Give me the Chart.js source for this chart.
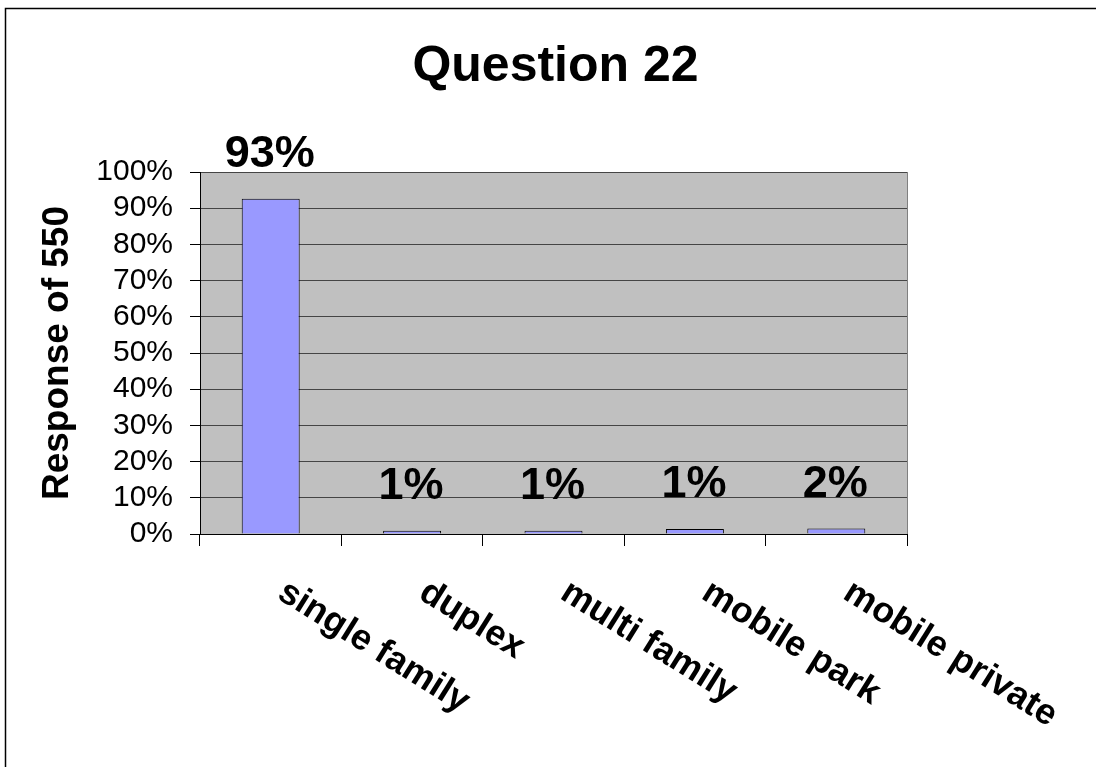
<!DOCTYPE html>
<html>
<head>
<meta charset="utf-8">
<title>Question 22</title>
<script src="https://cdn.jsdelivr.net/npm/chart.js@4/dist/chart.umd.min.js"></script>
<style>
  html, body { margin: 0; padding: 0; background: #fff; }
  #wrap { width: 1096px; height: 767px; }
</style>
</head>
<body>
<div id="wrap"><canvas id="chart" width="1096" height="767"></canvas></div>
<script>
// data
const categories = ['single family', 'duplex', 'multi family', 'mobile park', 'mobile private'];
const responses = [92.6, 0.9, 0.9, 1.4, 1.5];
const barLabels = ['93%', '1%', '1%', '1%', '2%'];
const yTicks = [0, 10, 20, 30, 40, 50, 60, 70, 80, 90, 100];

const FONT = 'Arial, "Liberation Sans", Helvetica, sans-serif';

// grey plot background + frame round the whole picture
const backdrop = {
  id: 'backdrop',
  beforeDraw(chart) {
    const { ctx, chartArea: a } = chart;
    ctx.save();
    ctx.fillStyle = '#fff';
    ctx.fillRect(0, 0, chart.width, chart.height);
    ctx.strokeStyle = '#000';
    ctx.lineWidth = 1.5;
    ctx.strokeRect(5.5, 8.5, chart.width + 20, chart.height + 20);
    ctx.fillStyle = '#c0c0c0';
    ctx.fillRect(a.left, a.top, a.right - a.left, a.bottom - a.top);
    ctx.strokeStyle = '#808080';
    ctx.lineWidth = 1;
    ctx.strokeRect(a.left + 0.5, a.top + 0.5, a.right - a.left, a.bottom - a.top);
    ctx.restore();
  }
};

// title, value labels and slanted category labels
const texts = {
  id: 'texts',
  afterDraw(chart) {
    const { ctx, chartArea: a } = chart;
    const x = chart.scales.x;
    const y = chart.scales.y;
    ctx.save();
    ctx.fillStyle = '#000';
    ctx.textAlign = 'center';
    ctx.textBaseline = 'alphabetic';
    ctx.font = 'bold 50px ' + FONT;
    ctx.fillText('Question 22', (a.left + a.right) / 2 + 2, 81);

    ctx.font = 'bold 45px ' + FONT;
    responses.forEach((v, i) => {
      ctx.fillText(barLabels[i], x.getPixelForValue(i) - 1, y.getPixelForValue(v) - 32);
    });

    ctx.font = 'bold 36px ' + FONT;
    ctx.textAlign = 'left';
    ctx.textBaseline = 'top';
    categories.forEach((c, i) => {
      ctx.save();
      ctx.translate(x.getPixelForValue(i) + 20, a.bottom + 40);
      ctx.rotate(32 * Math.PI / 180);
      ctx.fillText(c, 0, 0);
      ctx.restore();
    });
    ctx.restore();
  }
};

new Chart(document.getElementById('chart'), {
  type: 'bar',
  data: {
    labels: categories,
    datasets: [{
      data: responses,
      backgroundColor: '#9999ff',
      borderColor: '#000',
      borderWidth: 1,
      barPercentage: 0.41,
      categoryPercentage: 1
    }]
  },
  options: {
    responsive: false,
    animation: false,
    layout: { padding: { top: 172, right: 189, bottom: 0, left: 0 } },
    plugins: {
      legend: { display: false },
      tooltip: { enabled: false },
      title: { display: false }
    },
    scales: {
      x: {
        grid: { display: true, drawOnChartArea: false, offset: true, color: '#000', tickLength: 12 },
        border: { color: '#000', width: 1 },
        ticks: { display: false },
        afterFit(s) { s.height = 767 - 534; }
      },
      y: {
        min: 0,
        max: 100,
        afterBuildTicks(s) { s.ticks = yTicks.map(v => ({ value: v })); },
        grid: { color: '#454545', tickColor: '#000', tickLength: 10 },
        border: { color: '#000', width: 1 },
        ticks: {
          autoSkip: false,
          padding: 17,
          color: '#000',
          font: { family: FONT, size: 30 },
          callback: v => v + '%'
        },
        title: {
          display: true,
          text: 'Response of 550',
          color: '#000',
          font: { family: FONT, size: 37, weight: 'bold' },
          padding: { top: 36, bottom: 0 }
        },
        afterFit(s) { s.width = 200; }
      }
    }
  },
  plugins: [backdrop, texts]
});
</script>
</body>
</html>
